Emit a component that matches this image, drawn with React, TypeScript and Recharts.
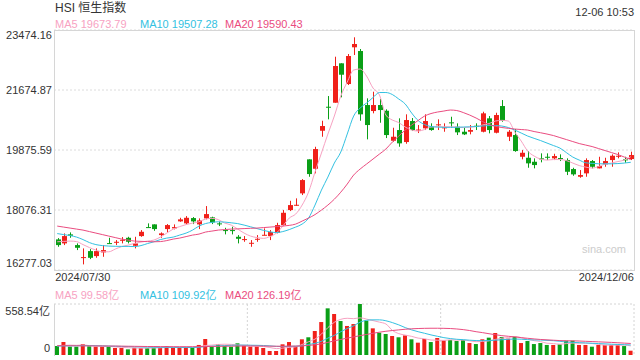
import { ComposedChart, Bar, Line, XAxis, YAxis, CartesianGrid, Cell } from "recharts";

const dates = [
  "2024/07/30", "2024/07/31", "2024/08/01", "2024/08/02", "2024/08/05", "2024/08/06", "2024/08/07", "2024/08/08", "2024/08/09", "2024/08/12",
  "2024/08/13", "2024/08/14", "2024/08/15", "2024/08/16", "2024/08/19", "2024/08/20", "2024/08/21", "2024/08/22", "2024/08/23", "2024/08/26",
  "2024/08/27", "2024/08/28", "2024/08/29", "2024/08/30", "2024/09/02", "2024/09/03", "2024/09/04", "2024/09/05", "2024/09/09", "2024/09/10",
  "2024/09/11", "2024/09/12", "2024/09/13", "2024/09/16", "2024/09/17", "2024/09/19", "2024/09/20", "2024/09/23", "2024/09/24", "2024/09/25",
  "2024/09/26", "2024/09/27", "2024/09/30", "2024/10/02", "2024/10/03", "2024/10/04", "2024/10/07", "2024/10/08", "2024/10/09", "2024/10/10",
  "2024/10/14", "2024/10/15", "2024/10/16", "2024/10/17", "2024/10/18", "2024/10/21", "2024/10/22", "2024/10/23", "2024/10/24", "2024/10/25",
  "2024/10/28", "2024/10/29", "2024/10/30", "2024/10/31", "2024/11/01", "2024/11/04", "2024/11/05", "2024/11/06", "2024/11/07", "2024/11/08",
  "2024/11/11", "2024/11/12", "2024/11/13", "2024/11/14", "2024/11/15", "2024/11/18", "2024/11/19", "2024/11/20", "2024/11/21", "2024/11/22",
  "2024/11/25", "2024/11/26", "2024/11/27", "2024/11/28", "2024/11/29", "2024/12/02", "2024/12/03", "2024/12/04", "2024/12/05", "2024/12/06",
];

const openPrices = [
  17195, 17075, 17345, 17024, 16643, 16844, 16694, 16805, 17084, 17093,
  17153, 17243, 17003, 17294, 17564, 17645, 17324, 17504, 17525, 17735,
  17675, 17834, 17645, 17825, 17855, 17675, 17474, 17474, 17273, 17174,
  17075, 17183, 17315, 17294, 17395, 17624, 18074, 18203, 18575, 19595,
  19313, 20453, 21173, 21293, 22475, 21854, 22955, 22844, 21224, 21044,
  21224, 21053, 20153, 20474, 20114, 20744, 20459, 20525, 20573, 20624,
  20534, 20705, 20573, 20423, 20423, 20603, 20423, 20825, 20393, 21194,
  20273, 20324, 19673, 19643, 19523, 19625, 19673, 19625, 19634, 19574,
  19304, 19073, 19175, 19544, 19325, 19445, 19574, 19673, 19595, 19604,
];

const closePrices = [
  17024, 17294, 17303, 16943, 16664, 16643, 16844, 16874, 17063, 17123,
  17183, 17123, 17075, 17423, 17543, 17504, 17375, 17624, 17564, 17795,
  17843, 17735, 17764, 17954, 17705, 17645, 17453, 17453, 17213, 17204,
  17093, 17213, 17333, 17414, 17624, 17993, 18224, 18233, 18974, 19154,
  19904, 20594, 21143, 22394, 22133, 22694, 23054, 20945, 20624, 21224,
  21074, 20324, 20273, 20075, 20774, 20474, 20489, 20744, 20474, 20645,
  20555, 20684, 20405, 20345, 20474, 20573, 20975, 20474, 20924, 20753,
  20423, 19844, 19793, 19475, 19424, 19604, 19655, 19694, 19613, 19223,
  19145, 19124, 19574, 19373, 19394, 19544, 19703, 19703, 19574, 19724,
];

const highPrices = [
  17234, 17375, 17405, 17075, 16925, 16904, 16925, 17024, 17243, 17174,
  17264, 17273, 17273, 17474, 17675, 17645, 17405, 17654, 17645, 17843,
  17894, 17864, 17825, 18194, 17875, 17725, 17543, 17573, 17324, 17294,
  17174, 17324, 17525, 17474, 17693, 18074, 18353, 18425, 19004, 19595,
  19973, 20753, 21494, 22673, 22475, 22754, 23255, 22904, 21425, 21623,
  21404, 21095, 20543, 20825, 20945, 20834, 20624, 20945, 20675, 20795,
  20675, 20873, 20675, 20543, 20624, 20675, 21023, 20894, 20993, 21374,
  20474, 20504, 19874, 19844, 19625, 19775, 19775, 19763, 19745, 19625,
  19343, 19274, 19625, 19574, 19673, 19643, 19745, 19805, 19673, 19825,
];

const lowPrices = [
  16973, 17024, 17243, 16874, 16445, 16604, 16643, 16673, 17063, 17024,
  17075, 17075, 16925, 17273, 17543, 17453, 17243, 17405, 17495, 17723,
  17645, 17654, 17504, 17795, 17654, 17594, 17345, 17345, 17075, 17123,
  16973, 17123, 17315, 17174, 17375, 17594, 18044, 18203, 18524, 19073,
  19175, 20273, 20795, 21293, 21455, 21824, 22724, 20753, 20195, 20975,
  20693, 20234, 20123, 19973, 20063, 20444, 20384, 20474, 20453, 20474,
  20423, 20543, 20324, 20324, 20345, 20474, 20405, 20375, 20375, 20723,
  20144, 19823, 19595, 19343, 19325, 19505, 19574, 19574, 19544, 19124,
  19103, 19043, 19073, 19325, 19325, 19373, 19373, 19625, 19493, 19574,
];

const ma5 = [
  17123, 17135, 17144, 17129, 17039, 16949, 16874, 16823, 16823, 16904,
  16979, 17024, 17075, 17114, 17144, 17174, 17264, 17384, 17504, 17579,
  17639, 17684, 17723, 17804, 17825, 17789, 17684, 17624, 17504, 17384,
  17294, 17249, 17225, 17279, 17384, 17594, 17834, 17954, 18224, 18614,
  19214, 19784, 20354, 20894, 21494, 21914, 22274, 22304, 22094, 21734,
  21524, 20924, 20774, 20699, 20564, 20474, 20444, 20489, 20564, 20573,
  20573, 20573, 20564, 20549, 20564, 20579, 20624, 20669, 20744, 20765,
  20744, 20414, 20144, 19844, 19694, 19604, 19574, 19589, 19589, 19559,
  19484, 19409, 19364, 19334, 19379, 19454, 19484, 19529, 19574, 19673.79,
];

const ma10 = [
  17369, 17339, 17309, 17264, 17189, 17099, 17039, 17009, 16994, 16988,
  16985, 16985, 16979, 17009, 17069, 17123, 17189, 17234, 17264, 17324,
  17384, 17474, 17594, 17669, 17705, 17723, 17714, 17693, 17669, 17624,
  17573, 17519, 17465, 17423, 17399, 17429, 17489, 17564, 17654, 17834,
  18224, 18674, 19064, 19484, 19814, 20354, 20894, 21134, 21284, 21449,
  21599, 21599, 21539, 21404, 21254, 20984, 20759, 20639, 20579, 20564,
  20555, 20555, 20558, 20564, 20570, 20579, 20594, 20609, 20609, 20594,
  20549, 20474, 20384, 20294, 20225, 20159, 20084, 20009, 19934, 19799,
  19664, 19574, 19493, 19475, 19463, 19460, 19460, 19469, 19484, 19507.28,
];

const ma20 = [
  17594, 17564, 17534, 17504, 17474, 17429, 17384, 17339, 17294, 17249,
  17204, 17174, 17144, 17135, 17129, 17123, 17129, 17159, 17204, 17234,
  17279, 17324, 17354, 17414, 17444, 17474, 17489, 17504, 17510, 17519,
  17528, 17534, 17549, 17564, 17579, 17594, 17615, 17654, 17744, 17834,
  17939, 18074, 18224, 18400, 18610, 18854, 19124, 19304, 19454, 19604,
  19754, 19904, 20114, 20294, 20474, 20624, 20759, 20894, 20969, 21014,
  21044, 21074, 21059, 20999, 20924, 20834, 20729, 20639, 20585, 20549,
  20525, 20504, 20489, 20474, 20429, 20393, 20354, 20309, 20249, 20189,
  20129, 20069, 20024, 19979, 19919, 19859, 19799, 19739, 19664, 19590.43,
];

// turnover, 亿
const volumes = [
  98.5, 142, 91, 91, 120, 95, 91, 91, 91, 77,
  77, 62, 80, 77, 77, 80, 80, 98, 80, 84,
  80, 80, 110, 175, 91, 117, 98, 91, 128, 105,
  91, 91, 77, 44, 44, 117, 142, 98, 172, 194,
  263, 361, 511, 449, 372, 318, 339, 558.54, 376, 292,
  244, 230, 208, 194, 215, 172, 135, 175, 142, 186,
  161, 164, 153, 164, 131, 120, 172, 190, 241, 197,
  179, 201, 131, 153, 120, 131, 110, 110, 117, 157,
  157, 110, 110, 91, 110, 110, 110, 110, 98, 47,
];

const volMa5 = [
  100, 105, 108, 106, 110, 103, 101, 98, 96, 88,
  84, 80, 77, 75, 75, 77, 79, 83, 84, 84,
  84, 84, 90, 104, 108, 115, 118, 116, 110, 108,
  105, 102, 93, 82, 70, 75, 83, 89, 115, 145,
  174, 229, 300, 358, 391, 402, 398, 407, 393, 377,
  360, 340, 270, 234, 218, 204, 185, 178, 164, 162,
  160, 166, 163, 163, 155, 146, 148, 155, 171, 184,
  190, 202, 190, 172, 157, 147, 129, 125, 118, 125,
  130, 130, 130, 126, 117, 108, 108, 108, 108, 99.58,
];

const volMa10 = [
  98, 99, 100, 101, 102, 103, 102, 100, 98, 96,
  94, 92, 90, 88, 86, 85, 84, 84, 83, 83,
  82, 82, 85, 92, 96, 100, 103, 106, 108, 108,
  107, 106, 104, 100, 94, 92, 95, 96, 100, 115,
  128, 150, 185, 215, 255, 290, 320, 360, 380, 385,
  385, 375, 355, 330, 300, 275, 255, 238, 220, 205,
  190, 180, 172, 168, 162, 158, 157, 158, 162, 167,
  172, 175, 173, 168, 165, 164, 160, 157, 150, 142,
  138, 135, 132, 128, 125, 122, 118, 115, 113, 109.92,
];

const volMa20 = [
  102, 102, 101, 101, 100, 100, 99, 99, 98, 98,
  97, 96, 95, 94, 93, 93, 92, 92, 91, 91,
  91, 91, 92, 93, 94, 95, 96, 97, 98, 98,
  98, 98, 98, 97, 96, 96, 97, 98, 100, 105,
  112, 122, 138, 155, 170, 185, 198, 212, 225, 238,
  250, 260, 268, 275, 282, 287, 290, 292, 293, 293,
  292, 290, 285, 278, 268, 255, 245, 233, 222, 212,
  205, 198, 190, 183, 176, 170, 166, 162, 158, 156,
  155, 153, 150, 147, 144, 141, 138, 134, 130, 126.19,
];

const priceTicks = [16277.03, 18076.31, 19875.59, 21674.87, 23474.16];
const volumeTicks = [0, 558.54];

const RED = "#f0201a";
const GREEN = "#0a9f17";
const MA5_COLOR = "#f7a2c2";
const MA10_COLOR = "#33c1e1";
const MA20_COLOR = "#ea4c80";
const FONT = 'Arial, "Liberation Sans", "Noto Sans CJK SC", sans-serif';

const last = dates.length - 1;

const data = dates.map((date, i) => ({
  date,
  open: openPrices[i],
  close: closePrices[i],
  high: highPrices[i],
  low: lowPrices[i],
  range: [lowPrices[i], highPrices[i]],
  up: closePrices[i] >= openPrices[i],
  ma5: ma5[i],
  ma10: ma10[i],
  ma20: ma20[i],
  volume: volumes[i],
  volMa5: volMa5[i],
  volMa10: volMa10[i],
  volMa20: volMa20[i],
}));

function Candle(props: any) {
  const { x, y, width, height, payload } = props;
  const { open, close, high, low, up } = payload;
  const color = up ? RED : GREEN;
  const top = Math.min(y, y + height);
  const h = Math.abs(height);
  const yOf = (v: number) => top + ((high - v) / (high - low)) * h;
  const bodyTop = yOf(Math.max(open, close));
  const bodyBottom = yOf(Math.min(open, close));
  const cx = Math.round(x + width / 2) + 0.5;
  return (
    <g>
      <line x1={cx} x2={cx} y1={top} y2={top + h} stroke={color} strokeWidth={1} />
      <rect x={cx - width / 2} y={bodyTop} width={width} height={Math.max(1, bodyBottom - bodyTop)} fill={color} />
    </g>
  );
}

function PriceTick(props: any) {
  const { x, y, payload } = props;
  const v = payload.value;
  let dy = 0;
  if (v === priceTicks[priceTicks.length - 1]) dy = 5;
  if (v === priceTicks[0]) dy = -7;
  return (
    <text x={x} y={y + dy} textAnchor="end" dominantBaseline="central" fontSize={11} fill="#333" fontFamily={FONT}>
      {v.toFixed(2)}
    </text>
  );
}

function VolumeTick(props: any) {
  const { x, y, payload } = props;
  const v = payload.value;
  const dy = v === 0 ? -7 : 7;
  return (
    <text x={x} y={y + dy} textAnchor="end" dominantBaseline="central" fontSize={11} fill="#333" fontFamily={FONT}>
      {v === 0 ? "0" : v.toFixed(2) + "亿"}
    </text>
  );
}

function DateTick(props: any) {
  const { x, y, payload } = props;
  const first = payload.value === dates[0];
  return (
    <text
      x={first ? x - 2 : x + 3}
      y={y + 7}
      textAnchor={first ? "start" : "end"}
      dominantBaseline="central"
      fontSize={11}
      fill="#333"
      fontFamily={FONT}
    >
      {payload.value}
    </text>
  );
}

const textStyle = { position: "absolute" as const, fontFamily: FONT, fontSize: 11, lineHeight: "12px", whiteSpace: "nowrap" as const };

export default function App() {
  return (
    <div style={{ position: "absolute", left: 0, top: 0, width: 640, height: 360, background: "#fff", overflow: "hidden" }}>
      {/* Price panel */}
      <div style={{ position: "absolute", left: 0, top: 0 }}>
        <ComposedChart width={640} height={290} data={data} margin={{ top: 30, right: 6, left: 0, bottom: 0 }}>
          <CartesianGrid vertical={false} stroke="#dcdcdc" strokeDasharray="2 2" />
          <XAxis
            dataKey="date"
            ticks={[dates[0], dates[last]]}
            interval={0}
            height={20}
            tickLine={false}
            axisLine={false}
            tickSize={0}
            tickMargin={0}
            tick={DateTick}
          />
          <YAxis
            domain={[priceTicks[0], priceTicks[priceTicks.length - 1]]}
            ticks={priceTicks}
            interval={0}
            width={54}
            tickLine={false}
            axisLine={false}
            tickSize={0}
            tickMargin={2}
            tick={PriceTick}
          />
          <Bar dataKey="range" barSize={5} shape={Candle} isAnimationActive={false} />
          <Line type="monotone" dataKey="ma5" stroke={MA5_COLOR} strokeWidth={1} dot={false} isAnimationActive={false} />
          <Line type="monotone" dataKey="ma10" stroke={MA10_COLOR} strokeWidth={1} dot={false} isAnimationActive={false} />
          <Line type="monotone" dataKey="ma20" stroke={MA20_COLOR} strokeWidth={1} dot={false} isAnimationActive={false} />
        </ComposedChart>
      </div>

      {/* Volume panel */}
      <div style={{ position: "absolute", left: 0, top: 300 }}>
        <ComposedChart width={640} height={60} data={data} margin={{ top: 4, right: 6, left: 0, bottom: 5 }}>
          <CartesianGrid
            stroke="#d4d4d4"
            strokeDasharray="2 2"
            horizontalCoordinatesGenerator={({ offset }: any) => [offset.top]}
            verticalCoordinatesGenerator={({ offset }: any) => [
              offset.left + offset.width / 3,
              offset.left + (offset.width * 2) / 3,
              offset.left + offset.width,
            ]}
          />
          <XAxis dataKey="date" hide />
          <YAxis
            domain={[volumeTicks[0], volumeTicks[1]]}
            ticks={volumeTicks}
            interval={0}
            width={54}
            tickLine={false}
            axisLine={false}
            tickSize={0}
            tickMargin={4}
            tick={VolumeTick}
          />
          <Bar dataKey="volume" barSize={4} isAnimationActive={false}>
            {data.map((d, i) => (
              <Cell key={i} fill={d.up ? RED : GREEN} />
            ))}
          </Bar>
          <Line type="monotone" dataKey="volMa5" stroke={MA5_COLOR} strokeWidth={1} dot={false} isAnimationActive={false} />
          <Line type="monotone" dataKey="volMa10" stroke={MA10_COLOR} strokeWidth={1} dot={false} isAnimationActive={false} />
          <Line type="monotone" dataKey="volMa20" stroke={MA20_COLOR} strokeWidth={1} dot={false} isAnimationActive={false} />
        </ComposedChart>
      </div>

      {/* frames */}
      <div style={{ position: "absolute", left: 54, top: 30, width: 581, height: 241, boxSizing: "border-box", border: "1px solid #d6d6d6", pointerEvents: "none" }} />
      <div style={{ position: "absolute", left: 54, top: 304, width: 1, height: 52, background: "#d6d6d6" }} />

      {/* titles and legends */}
      <div style={{ ...textStyle, left: 55, top: 1, fontSize: 12, lineHeight: "14px", color: "#333" }}>HSI 恒生指数</div>
      <div style={{ ...textStyle, right: 6, top: 6, color: "#333" }}>12-06 10:53</div>
      <div style={{ ...textStyle, left: 55, top: 18, color: MA5_COLOR }}>MA5 {ma5[last].toFixed(2)}</div>
      <div style={{ ...textStyle, left: 140, top: 18, color: MA10_COLOR }}>MA10 {ma10[last].toFixed(2)}</div>
      <div style={{ ...textStyle, left: 225, top: 18, color: MA20_COLOR }}>MA20 {ma20[last].toFixed(2)}</div>
      <div style={{ ...textStyle, left: 55, top: 289, color: MA5_COLOR }}>MA5 {volMa5[last].toFixed(2)}亿</div>
      <div style={{ ...textStyle, left: 140, top: 289, color: MA10_COLOR }}>MA10 {volMa10[last].toFixed(2)}亿</div>
      <div style={{ ...textStyle, left: 225, top: 289, color: MA20_COLOR }}>MA20 {volMa20[last].toFixed(2)}亿</div>
      <div style={{ ...textStyle, left: 582, top: 243, color: "#cccccc" }}>sina.com</div>
    </div>
  );
}
